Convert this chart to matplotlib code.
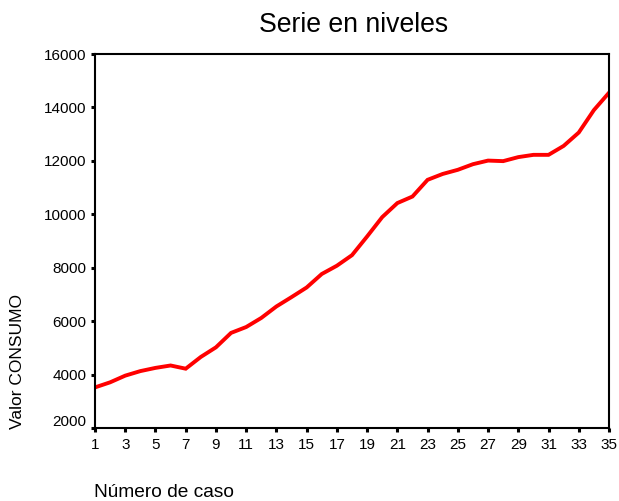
import matplotlib
matplotlib.use("Agg")
import matplotlib.pyplot as plt
import matplotlib.transforms as mtransforms

plt.rcParams['font.family'] = ['Liberation Sans', 'DejaVu Sans']

caso = list(range(1, 36))
consumo = [3520, 3710, 3960, 4130, 4250, 4340, 4220, 4660, 5020, 5560,
           5780, 6120, 6550, 6900, 7260, 7765, 8075, 8470, 9170, 9895,
           10420, 10665, 11290, 11510, 11665, 11875, 12010, 11990, 12140, 12225,
           12225, 12560, 13060, 13900, 14550]
xticks = list(range(1, 36, 2))
yticks = [2000, 4000, 6000, 8000, 10000, 12000, 14000, 16000]

fig = plt.figure(figsize=(6.19, 5.01), dpi=100)
ax = fig.add_axes([95/619, 1-428/501, (609-95)/619, (428-54)/501])
ax.plot(caso, consumo, color='#ff0000', linewidth=2.8, solid_joinstyle='miter')
ax.set_xlim(1, 35)
ax.set_ylim(2000, 16000)
ax.set_xticks(xticks)
ax.set_yticks(yticks)
ax.tick_params(direction='out', length=3, width=2.2, labelsize=11)
ax.tick_params(axis='x', pad=4)
ax.tick_params(axis='y', pad=3)
for s in ax.spines.values():
    s.set_linewidth(1.5)
# lowest y label sits slightly above its tick, as in the original
lbls = ax.get_yticklabels()
lbls[0].set_transform(lbls[0].get_transform() + mtransforms.ScaledTranslation(0, 7/100, fig.dpi_scale_trans))

fig.text(354/619, 1-32/501, 'Serie en niveles', ha='center', va='baseline', fontsize=19.2)
fig.text(94/619, 1-497/501, 'Número de caso', ha='left', va='baseline', fontsize=13.8)
fig.text(18/619, 1-429/501, 'Valor CONSUMO', ha='center', va='bottom', rotation=90, fontsize=12.5)

fig.savefig('out.png', dpi=100)
